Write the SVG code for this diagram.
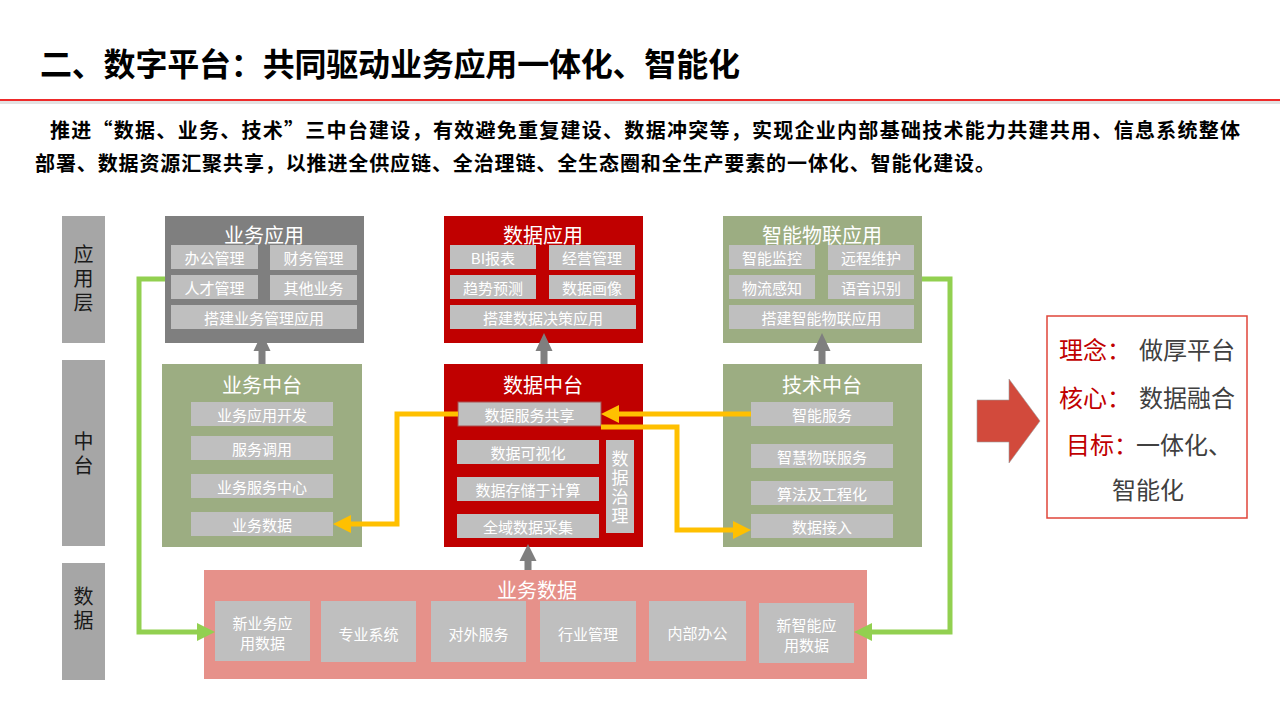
<svg xmlns="http://www.w3.org/2000/svg" width="1280" height="720" viewBox="0 0 1280 720">
<style>
text{font-family:"Noto Sans CJK SC","Noto Sans",sans-serif}
.sb{fill:#BFBFBF}
.st{fill:#fff;font-size:15px;text-anchor:middle;dominant-baseline:central}
.ht{fill:#fff;font-size:20px;text-anchor:middle;dominant-baseline:central}
.lb{fill:#A6A6A6}
.lt{fill:#1a1a1a;font-size:20px;text-anchor:middle;writing-mode:vertical-rl;letter-spacing:4px}
.vt{fill:#fff;font-size:17px;text-anchor:middle;writing-mode:vertical-rl;letter-spacing:2px}
.gry{fill:#7F7F7F}
.red{fill:#C00000}
.grn{fill:#9CAD82}
.yl{fill:none;stroke:#FFC000;stroke-width:5}
.gl{fill:none;stroke:#92D050;stroke-width:5}
.ga{fill:#7F7F7F}
.rt{font-size:24px;dominant-baseline:central}
</style>
<defs>
<marker id="ya" markerUnits="userSpaceOnUse" markerWidth="18" markerHeight="18" viewBox="0 0 18 18" refX="0" refY="9" orient="auto"><path d="M0,0 L18,9 L0,18 Z" fill="#FFC000"/></marker>
<marker id="gh" markerUnits="userSpaceOnUse" markerWidth="18" markerHeight="18" viewBox="0 0 18 18" refX="0" refY="9" orient="auto"><path d="M0,0 L18,9 L0,18 Z" fill="#92D050"/></marker>
</defs>
<rect width="1280" height="720" fill="#fff"/>
<g id="title">
<text x="40" y="62" font-size="32" font-weight="bold" fill="#000" dominant-baseline="central" textLength="700">二、数字平台：共同驱动业务应用一体化、智能化</text>
<rect x="0" y="101" width="1280" height="3" fill="#e2e2e2"/>
<rect x="0" y="99" width="1280" height="2" fill="#EE2A2A"/>
</g>
<g id="intro" font-size="20" font-weight="bold" fill="#000">
<text x="50" y="129" dominant-baseline="central" textLength="1190" lengthAdjust="spacing">推进“数据、业务、技术”三中台建设，有效避免重复建设、数据冲突等，实现企业内部基础技术能力共建共用、信息系统整体</text>
<text x="35" y="162" dominant-baseline="central" textLength="960" lengthAdjust="spacing">部署、数据资源汇聚共享，以推进全供应链、全治理链、全生态圈和全生产要素的一体化、智能化建设。</text>
</g>
<g id="layer-labels">
<rect class="lb" x="62" y="216" width="43" height="127"/>
<text class="lt" x="83.5" y="280">应用层</text>
<rect class="lb" x="62" y="360" width="43" height="186"/>
<text class="lt" x="83.5" y="455">中台</text>
<rect class="lb" x="62" y="563" width="43" height="117"/>
<text class="lt" x="83.5" y="610">数据</text>
</g>
<g id="arrow-biz-hidden">
<path class="ga" d="M262,333 L270.5,351 L265.5,351 L265.5,364 L258.5,364 L258.5,351 L253.5,351 Z"/>
</g>
<g id="biz-app">
<rect class="gry" x="165" y="216" width="199" height="127"/>
<text class="ht" x="264" y="234">业务应用</text>
<rect class="sb" x="171" y="245" width="87" height="24"/><text class="st" x="214.5" y="257">办公管理</text>
<rect class="sb" x="270" y="245" width="87" height="25"/><text class="st" x="313.5" y="257.5">财务管理</text>
<rect class="sb" x="171" y="275" width="87" height="24"/><text class="st" x="214.5" y="287">人才管理</text>
<rect class="sb" x="270" y="275" width="87" height="25"/><text class="st" x="313.5" y="287.5">其他业务</text>
<rect class="sb" x="171" y="305" width="186" height="24"/><text class="st" x="264" y="317">搭建业务管理应用</text>
</g>
<g id="data-app">
<rect class="red" x="444" y="216" width="199" height="127"/>
<text class="ht" x="543" y="234">数据应用</text>
<rect class="sb" x="450" y="245" width="86" height="24"/><text class="st" x="493" y="257">BI报表</text>
<rect class="sb" x="549" y="245" width="86" height="25"/><text class="st" x="592" y="257.5">经营管理</text>
<rect class="sb" x="450" y="275" width="86" height="24"/><text class="st" x="493" y="287">趋势预测</text>
<rect class="sb" x="549" y="275" width="86" height="24"/><text class="st" x="592" y="287">数据画像</text>
<rect class="sb" x="450" y="305" width="186" height="24"/><text class="st" x="543" y="317">搭建数据决策应用</text>
</g>
<g id="iot-app">
<rect class="grn" x="723" y="216" width="199" height="127"/>
<text class="ht" x="822" y="234">智能物联应用</text>
<rect class="sb" x="729" y="245" width="86" height="24"/><text class="st" x="772" y="257">智能监控</text>
<rect class="sb" x="828" y="245" width="86" height="25"/><text class="st" x="871" y="257.5">远程维护</text>
<rect class="sb" x="729" y="275" width="86" height="24"/><text class="st" x="772" y="287">物流感知</text>
<rect class="sb" x="828" y="275" width="86" height="24"/><text class="st" x="871" y="287">语音识别</text>
<rect class="sb" x="729" y="305" width="185" height="24"/><text class="st" x="821.5" y="317">搭建智能物联应用</text>
</g>
<g id="biz-mid">
<rect class="grn" x="162" y="364" width="200" height="183"/>
<text class="ht" x="262" y="384">业务中台</text>
<rect class="sb" x="191" y="402" width="142" height="24"/><text class="st" x="262" y="414">业务应用开发</text>
<rect class="sb" x="191" y="436" width="142" height="24"/><text class="st" x="262" y="448">服务调用</text>
<rect class="sb" x="191" y="474" width="142" height="24"/><text class="st" x="262" y="486">业务服务中心</text>
<rect class="sb" x="191" y="512" width="142" height="24"/><text class="st" x="262" y="524">业务数据</text>
</g>
<g id="data-mid">
<rect class="red" x="444" y="364" width="199" height="183"/>
<text class="ht" x="543" y="384">数据中台</text>
<rect class="sb" x="458" y="402" width="143" height="24" stroke="#A85050" stroke-width="1"/><text class="st" x="529.5" y="414">数据服务共享</text>
<rect class="sb" x="457" y="440" width="142" height="24"/><text class="st" x="528" y="452">数据可视化</text>
<rect class="sb" x="457" y="477" width="142" height="24"/><text class="st" x="528" y="489">数据存储于计算</text>
<rect class="sb" x="457" y="514" width="142" height="24"/><text class="st" x="528" y="526">全域数据采集</text>
<rect class="sb" x="606" y="440" width="28" height="93"/>
<text class="vt" x="620" y="488">数据治理</text>
</g>
<g id="tech-mid">
<rect class="grn" x="723" y="364" width="199" height="183"/>
<text class="ht" x="822" y="384">技术中台</text>
<rect class="sb" x="751" y="402" width="142" height="24"/><text class="st" x="822" y="414">智能服务</text>
<rect class="sb" x="751" y="444" width="142" height="24"/><text class="st" x="822" y="456">智慧物联服务</text>
<rect class="sb" x="751" y="481" width="142" height="24"/><text class="st" x="822" y="493">算法及工程化</text>
<rect class="sb" x="751" y="514" width="142" height="24"/><text class="st" x="822" y="526">数据接入</text>
</g>
<g id="biz-data">
<rect x="204" y="570" width="663" height="109" fill="#E6918A"/>
<text class="ht" x="537" y="589">业务数据</text>
<rect class="sb" x="215" y="601" width="95" height="60"/><text class="st"><tspan x="262.5" y="622">新业务应</tspan><tspan x="262.5" y="642">用数据</tspan></text>
<rect class="sb" x="321" y="601" width="95" height="61"/><text class="st" x="368.5" y="633">专业系统</text>
<rect class="sb" x="431" y="601" width="95" height="61"/><text class="st" x="478.5" y="633">对外服务</text>
<rect class="sb" x="540" y="601" width="96" height="61"/><text class="st" x="588" y="633">行业管理</text>
<rect class="sb" x="649" y="601" width="97" height="60"/><text class="st" x="697.5" y="632">内部办公</text>
<rect class="sb" x="759" y="603" width="95" height="60"/><text class="st"><tspan x="806.5" y="624">新智能应</tspan><tspan x="806.5" y="644">用数据</tspan></text>
</g>
<g id="connectors">
<path class="ga" d="M544,333 L552.5,351 L547.5,351 L547.5,364 L540.5,364 L540.5,351 L535.5,351 Z"/>
<path class="ga" d="M822,333 L830.5,351 L825.5,351 L825.5,364 L818.5,364 L818.5,351 L813.5,351 Z"/>
<path class="ga" d="M528,544 L536.5,561 L531.5,561 L531.5,570 L524.5,570 L524.5,561 L519.5,561 Z"/>
<path class="yl" d="M458,414 H397 V524 H351" marker-end="url(#ya)"/>
<path class="yl" d="M751,414 H619" marker-end="url(#ya)"/>
<path class="yl" d="M601,427 H677 V530 H733" marker-end="url(#ya)"/>
<path class="gl" d="M165,279 H139 V632 H197" marker-end="url(#gh)"/>
<path class="gl" d="M922,279 H950 V632 H872" marker-end="url(#gh)"/>
</g>
<g id="summary">
<polygon points="977,400 1009,400 1009,379 1040,421 1009,463 1009,442 977,442" fill="#D24A3C" stroke="#9a9a9a" stroke-width="0.6"/>
<rect x="1047" y="316" width="200" height="202" fill="#fff" stroke="#E0453A" stroke-width="1.5"/>
<text class="rt" x="1059" y="348"><tspan fill="#C00000">理念：</tspan><tspan x="1139" fill="#404040">做厚平台</tspan></text>
<text class="rt" x="1059" y="396"><tspan fill="#C00000">核心：</tspan><tspan x="1139" fill="#404040">数据融合</tspan></text>
<text class="rt" x="1066" y="443"><tspan fill="#C00000">目标：</tspan><tspan x="1136" fill="#404040">一体化、</tspan></text>
<text class="rt" x="1112" y="488" fill="#404040">智能化</text>
</g>
</svg>
